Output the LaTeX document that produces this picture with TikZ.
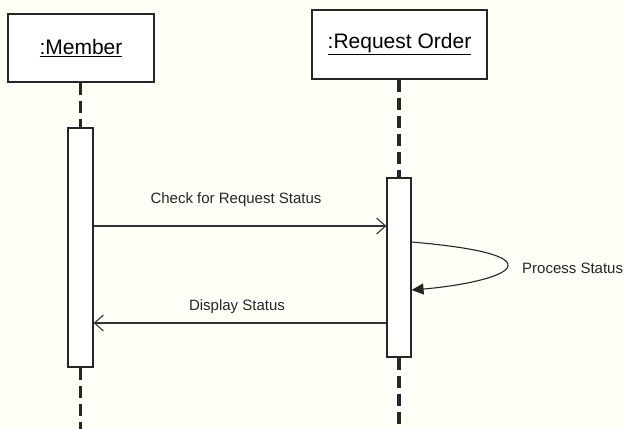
\documentclass[tikz,border=0pt]{standalone}
\usepackage{fontspec}
\setmainfont{Liberation Sans}
\usetikzlibrary{arrows.meta}
\begin{document}
\begin{tikzpicture}[x=1pt,y=-1pt,
  objbox/.style={draw=black!85,line width=1.4pt,fill=white,inner sep=0pt,font=\fontsize{21}{24}\selectfont},
  actbox/.style={draw=black!85,line width=1.2pt,fill=white,inner sep=0pt,minimum width=25pt},
  life/.style={line width=3.4pt,black!85,dash pattern=on 12pt off 6pt},
  msg/.style={line width=1.1pt,black!80,-{Straight Barb[length=9pt,width=16pt,line width=1.1pt]}},
  selfmsg/.style={line width=1.1pt,black!85,-{Triangle[length=12pt,width=11pt]}},
  lbl/.style={font=\fontsize{15}{18}\selectfont,text=black!85,inner sep=0pt}]
\useasboundingbox (0,0) rectangle (625,429);
\fill[white!97!yellow] (0,0) rectangle (625,429);
% objects
\node[objbox,minimum width=146pt,minimum height=68pt] (mem) at (81,48) {\underline{:Member}};
\node[objbox,minimum width=175pt,minimum height=69pt] (ro) at (399.5,44.5) {\underline{:Request Order}};
% activation boxes
\node[actbox,minimum height=239pt] (ma) at (80.5,247.5) {};
\node[actbox,minimum width=24pt,minimum height=179pt] (ra) at (399,267.5) {};
% lifelines
\coordinate (mend) at (80.5,429);
\coordinate (rend) at (399,429);
\draw[life] (mem.south -| ma.north) -- (ma.north);
\draw[life] (ma.south) -- (mend);
\draw[life] (ro.south -| ra.north) -- (ra.north);
\draw[life] (ra.south) -- (rend);
% messages
\coordinate (c1) at (0,226);
\coordinate (c2) at (0,323);
\draw[msg] (ma.east |- c1) -- (ra.west |- c1);
\node[lbl] (lcheck) at (236,200) {Check for Request Status};
\draw[msg] (ra.west |- c2) -- (ma.east |- c2);
\node[lbl] (ldisp) at (237,307) {Display Status};
% self message
\coordinate (s1) at (0,242);
\coordinate (s2) at (0,290);
\coordinate (apex) at (508,266);
\draw[selfmsg] (ra.east |- s1) .. controls (470,247) and (510,255) .. (apex)
  .. controls (506,277) and (460,286) .. (ra.east |- s2);
\node[lbl,anchor=west] (lproc) at (522,268) {Process Status};
\end{tikzpicture}
\end{document}
